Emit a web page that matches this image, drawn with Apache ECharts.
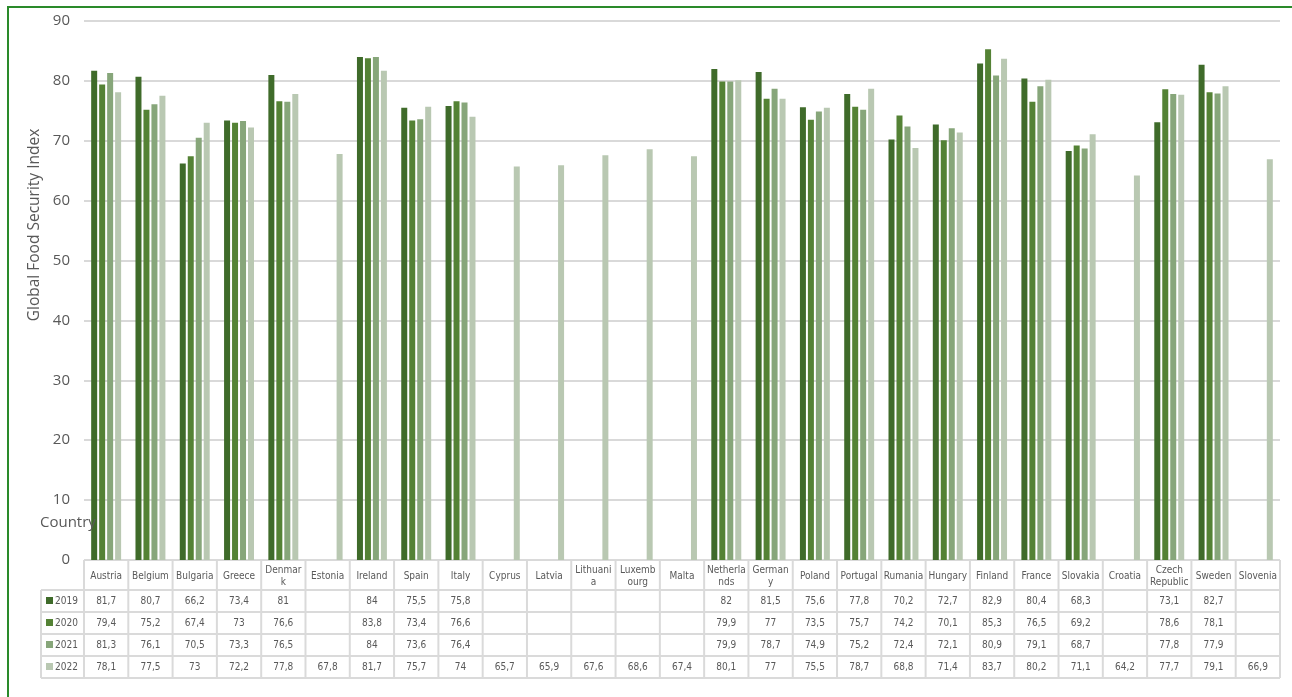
<!DOCTYPE html>
<html>
<head>
<meta charset="utf-8">
<script src="https://cdn.jsdelivr.net/npm/echarts@6/dist/echarts.min.js"></script>
<style>
html,body{margin:0;padding:0;background:#fff;}
#c{width:1292px;height:697px;}
</style>
</head>
<body>
<div id="c"></div>
<script>
const countries = ["Austria","Belgium","Bulgaria","Greece","Denmark","Estonia","Ireland","Spain","Italy","Cyprus","Latvia","Lithuania","Luxembourg","Malta","Netherlands","Germany","Poland","Portugal","Rumania","Hungary","Finland","France","Slovakia","Croatia","Czech Republic","Sweden","Slovenia"];
const headerLabels = ["Austria","Belgium","Bulgaria","Greece","Denmar\nk","Estonia","Ireland","Spain","Italy","Cyprus","Latvia","Lithuani\na","Luxemb\nourg","Malta","Netherla\nnds","German\ny","Poland","Portugal","Rumania","Hungary","Finland","France","Slovakia","Croatia","Czech\nRepublic","Sweden","Slovenia"];
const years = ["2019","2020","2021","2022"];
const y2019 = [81.7,80.7,66.2,73.4,81,null,84,75.5,75.8,null,null,null,null,null,82,81.5,75.6,77.8,70.2,72.7,82.9,80.4,68.3,null,73.1,82.7,null];
const y2020 = [79.4,75.2,67.4,73,76.6,null,83.8,73.4,76.6,null,null,null,null,null,79.9,77,73.5,75.7,74.2,70.1,85.3,76.5,69.2,null,78.6,78.1,null];
const y2021 = [81.3,76.1,70.5,73.3,76.5,null,84,73.6,76.4,null,null,null,null,null,79.9,78.7,74.9,75.2,72.4,72.1,80.9,79.1,68.7,null,77.8,77.9,null];
const y2022 = [78.1,77.5,73,72.2,77.8,67.8,81.7,75.7,74,65.7,65.9,67.6,68.6,67.4,80.1,77,75.5,78.7,68.8,71.4,83.7,80.2,71.1,64.2,77.7,79.1,66.9];
const yTicks = {min:0, max:90, interval:10};

const seriesData = [y2019, y2020, y2021, y2022];
const colors = ["#3f6b2a","#548235","#87a67a","#b9c8b2"];
const textCol = "#595959";
const tableFont = "'DejaVu Sans Condensed','DejaVu Sans',sans-serif";

const chart = echarts.init(document.getElementById('c'), null, {renderer:'canvas'});
const gridTop = 21, gridBottom = 137, gridLeft = 84, gridRight = 12;

chart.setOption({
  animation:false,
  backgroundColor:'#fff',
  title:{text:'Country',left:40,top:515,padding:0,z:20,
    textStyle:{color:textCol,fontSize:15,fontWeight:'normal',fontFamily:"'Open Sans',sans-serif"}},
  grid:{left:gridLeft,right:gridRight,top:gridTop,bottom:gridBottom,containLabel:false},
  xAxis:{type:'category',data:countries,
    axisLine:{show:true,lineStyle:{color:'#d9d9d9',width:1}},
    axisTick:{show:false},axisLabel:{show:false},splitLine:{show:false}},
  yAxis:{type:'value',min:yTicks.min,max:yTicks.max,interval:yTicks.interval,
    axisLine:{show:false},axisTick:{show:false},
    axisLabel:{color:textCol,fontSize:15,fontFamily:"'Open Sans',sans-serif",margin:14},
    splitLine:{lineStyle:{color:'#d9d9d9',width:2}}},
  series: years.map((y,i)=>({
    name:y,type:'bar',data:seriesData[i],barWidth:6,barGap:'33%',
    itemStyle:{color:colors[i]}
  }))
});

// build table and decorations
const x0 = chart.convertToPixel({xAxisIndex:0}, countries[0]);
const x1 = chart.convertToPixel({xAxisIndex:0}, countries[1]);
const cw = x1 - x0;
const left = x0 - cw/2;
const right = left + cw*countries.length;
const yZero = chart.convertToPixel({yAxisIndex:0}, 0);
const rowEdges = [yZero, yZero+30, yZero+52, yZero+74, yZero+96, yZero+118];
const legLeft = 41;
const lineCol = '#dadada';
const els = [];

// outer frame
els.push({type:'rect',shape:{x:8,y:7,width:1400,height:800},style:{fill:null,stroke:'#2a8a2a',lineWidth:2},silent:true,z:100});

// horizontal lines
els.push({type:'line',shape:{x1:left,y1:rowEdges[0],x2:right,y2:rowEdges[0]},style:{stroke:lineCol,lineWidth:2}});
for(let r=1;r<rowEdges.length;r++){
  els.push({type:'line',shape:{x1:legLeft,y1:rowEdges[r],x2:right,y2:rowEdges[r]},style:{stroke:lineCol,lineWidth:2}});
}
// vertical lines
els.push({type:'line',shape:{x1:legLeft,y1:rowEdges[1],x2:legLeft,y2:rowEdges[5]},style:{stroke:lineCol,lineWidth:2}});
for(let i=0;i<=countries.length;i++){
  const x = left + i*cw;
  els.push({type:'line',shape:{x1:x,y1:rowEdges[0],x2:x,y2:rowEdges[5]},style:{stroke:lineCol,lineWidth:2}});
}
// header labels
for(let i=0;i<countries.length;i++){
  const cx = left + (i+0.5)*cw;
  els.push({type:'text',x:cx,y:(rowEdges[0]+rowEdges[1])/2+1,style:{text:headerLabels[i],fill:textCol,font:"10px "+tableFont,align:'center',verticalAlign:'middle',lineHeight:12}});
}
// rows
for(let r=0;r<years.length;r++){
  const cy = (rowEdges[r+1]+rowEdges[r+2])/2;
  els.push({type:'rect',shape:{x:46,y:cy-4,width:7,height:7},style:{fill:colors[r]}});
  els.push({type:'text',x:55,y:cy,style:{text:years[r],fill:textCol,font:"10px "+tableFont,align:'left',verticalAlign:'middle'}});
  const arr = seriesData[r];
  for(let i=0;i<countries.length;i++){
    if(arr[i]==null) continue;
    const cx = left + (i+0.5)*cw;
    els.push({type:'text',x:cx,y:cy,style:{text:String(arr[i]).replace('.',','),fill:textCol,font:"10px "+tableFont,align:'center',verticalAlign:'middle'}});
  }
}
// y axis title
els.push({type:'text',x:35,y:225,rotation:Math.PI/2,style:{text:'Global Food Security Index',fill:textCol,font:"15.5px 'Open Sans',sans-serif",align:'center',verticalAlign:'middle'}});

chart.setOption({graphic:{elements:els}});
</script>
</body>
</html>
